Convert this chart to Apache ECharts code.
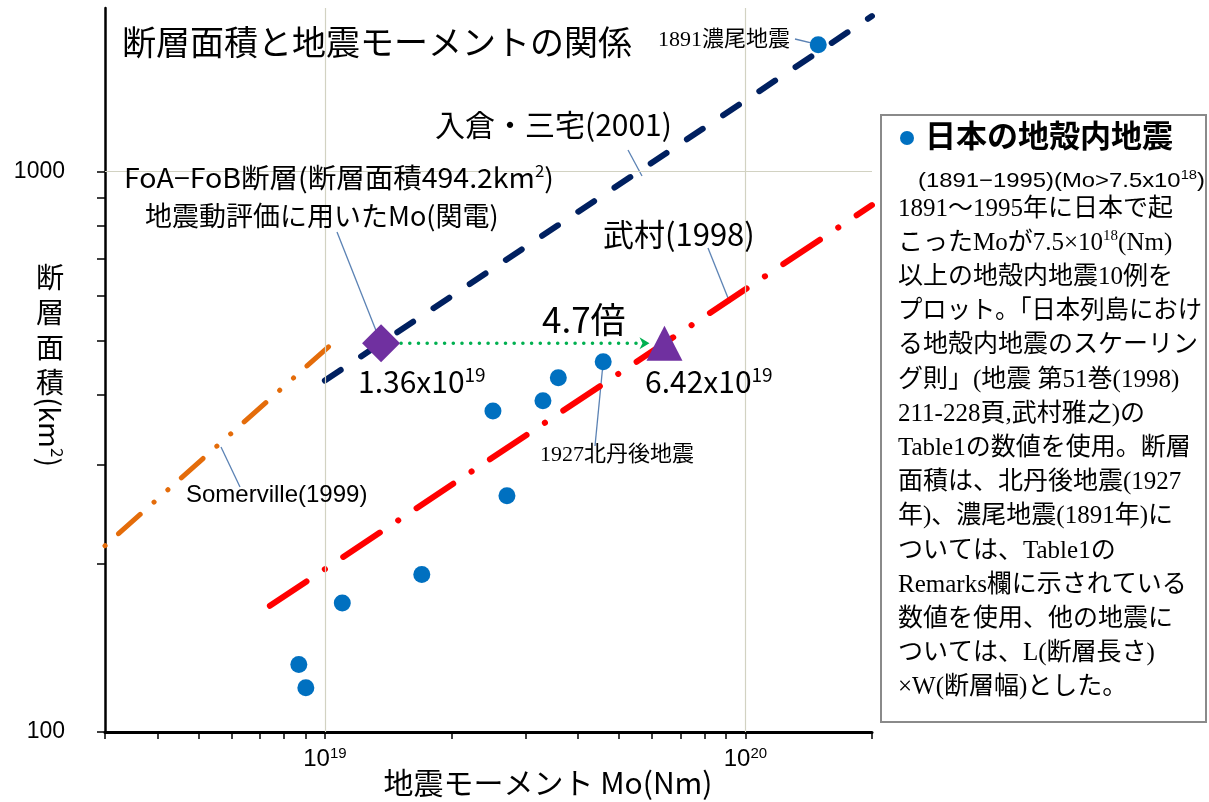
<!DOCTYPE html>
<html><head><meta charset="utf-8">
<script src="https://cdn.jsdelivr.net/npm/echarts@6/dist/echarts.min.js"></script>
<style>html,body{margin:0;padding:0;background:#fff}#c{width:1209px;height:802px}</style>
</head><body><div id="c"></div>
<script>
// ---- data ----
const quakeNames = ['1891濃尾地震','1927北丹後地震','','','','','','','',''];
const quakeMo   = [1.49e20, 4.59e19, 3.59e19, 3.30e19, 2.51e19, 2.71e19, 1.70e19, 1.10e19, 8.67e18, 9.01e18];
const quakeArea = [1686, 458, 429, 390, 374, 264, 191, 170, 132, 120];
const kandenMo = [1.36e19];   const kandenArea = [494.2];
const takemuraPtMo = [6.42e19]; const takemuraPtArea = [494.2];
const irikuraMo = [1e19, 2e20];      const irikuraArea = [424, 1896];
const takemuraMo = [7.4e18, 2e20];   const takemuraArea = [168, 872];
const somervilleMo = [3e18, 1.02e19]; const somervilleArea = [215, 487];
const xRange = [3e18, 2e20];
const yRange = [100, 1960];
const xTickValues = [3e18,4e18,5e18,6e18,7e18,8e18,9e18,1e19,2e19,3e19,4e19,5e19,6e19,7e19,8e19,9e19,1e20,2e20];
const xLabelValues = [1e19, 1e20];
const yTickValues = [100,200,300,400,500,600,700,800,900,1000];
const yLabelValues = [100, 1000];
const xGridValues = [1e19, 1e20];
const yGridValues = [1000];

const L = Math.log10;
const pts = (xs, ys) => xs.map((x, i) => [L(x), L(ys[i])]);
const SANS = "'Noto Sans CJK JP', sans-serif";
const LSANS = "'Liberation Sans', 'Noto Sans CJK JP', sans-serif";
const SERIF = "'Liberation Serif', 'Noto Sans CJK JP', serif";

const chart = echarts.init(document.getElementById('c'), null, {renderer: 'canvas'});
const option = {
  animation: false,
  backgroundColor: '#fff',
  grid: {left: 105, top: 8, width: 767, height: 724},
  xAxis: {
    type: 'value', min: L(xRange[0]), max: L(xRange[1]),
    axisLine: {show: true, onZero: false, lineStyle: {color: '#000', width: 3}},
    axisTick: {show: true, customValues: xTickValues.map(L), length: 7, lineStyle: {color: '#000', width: 1.5}},
    axisLabel: {show: true, customValues: xLabelValues.map(L), margin: 14,
      formatter: v => '{b|10}{s|' + Math.round(v) + '}',
      rich: {b: {fontSize: 24, lineHeight: 27, fontFamily: LSANS, color: '#000'},
             s: {fontSize: 15, lineHeight: 15, verticalAlign: 'top', fontFamily: LSANS, color: '#000'}}},
    splitLine: {show: false}
  },
  yAxis: {
    type: 'value', min: L(yRange[0]), max: L(yRange[1]),
    axisLine: {show: true, onZero: false, lineStyle: {color: '#000', width: 2.5}},
    axisTick: {show: true, customValues: yTickValues.map(L), length: 8, lineStyle: {color: '#000', width: 1.5}},
    axisLabel: {show: true, customValues: yLabelValues.map(L), margin: 40,
      formatter: v => String(Math.round(Math.pow(10, v))),
      fontSize: 23, fontFamily: LSANS, color: '#000'},
    splitLine: {show: false}
  },
  series: [
    {type: 'line', name: 'grid', data: [], z: 0, silent: true,
     markLine: {silent: true, symbol: 'none', label: {show: false},
       lineStyle: {color: '#d2d2c2', width: 1.2, type: 'solid'},
       data: xGridValues.map(v => ({xAxis: L(v)})).concat(yGridValues.map(v => ({yAxis: L(v)})))}},
    {type: 'line', name: 'Somerville(1999)', data: pts(somervilleMo, somervilleArea), showSymbol: false, symbol: 'none', z: 2,
     lineStyle: {color: '#E46C0A', width: 5, type: [0.1, 18, 29, 18.5, 0.1, 18.4], cap: 'round'}},
    {type: 'line', name: '武村(1998)', data: pts(takemuraMo, takemuraArea), showSymbol: false, symbol: 'none', z: 2,
     lineStyle: {color: '#FF0000', width: 6, type: [44, 22, 0.1, 22], cap: 'round'}},
    {type: 'line', name: '入倉・三宅(2001)', data: pts(irikuraMo, irikuraArea), showSymbol: false, symbol: 'none', z: 2,
     lineStyle: {color: '#002060', width: 6, type: [19, 24.5], cap: 'round'}},
    {type: 'scatter', name: '日本の地殻内地震', data: pts(quakeMo, quakeArea), symbol: 'circle', symbolSize: 17, z: 5,
     itemStyle: {color: '#0070C0', opacity: 1}},
    {type: 'scatter', name: '関電Mo', data: pts(kandenMo, kandenArea), symbol: 'diamond', symbolSize: [38, 38], z: 6,
     itemStyle: {color: '#7030A0', opacity: 1}},
    {type: 'scatter', name: '武村式Mo', data: pts(takemuraPtMo, takemuraPtArea), symbol: 'triangle', symbolSize: [36, 35], z: 6,
     itemStyle: {color: '#7030A0', opacity: 1}}
  ]
};
chart.setOption(option);

const P = (mo, s) => chart.convertToPixel({gridIndex: 0}, [L(mo), L(s)]);
const mctx = document.createElement('canvas').getContext('2d');
// measure a '{a|..}{s|..}' or plain string
function measure(text, big, small, fam) {
  const parts = [];
  const re = /\{(a|s)\|([^}]*)\}/g; let m, any = false;
  while ((m = re.exec(text))) { any = true; parts.push([m[1], m[2]]); }
  if (!any) parts.push(['a', text]);
  let w = 0;
  parts.forEach(p => { mctx.font = (p[0] === 's' ? small : big) + 'px ' + fam; w += mctx.measureText(p[1]).width; });
  return w;
}
function txt(x, y, text, font, opts) {
  opts = opts || {};
  return {type: 'text', x: x, y: y, z: opts.z || 50, rotation: opts.rotation || 0, scaleX: opts.scaleX || 1,
    style: Object.assign({text: text, font: font, fill: '#000',
      align: opts.align || 'left', textAlign: opts.align || 'left',
      verticalAlign: opts.va || 'middle', textVerticalAlign: opts.va || 'middle'}, opts.style || {})};
}
function seg(a, b, z) {
  return {type: 'line', z: z || 1, shape: {x1: a[0], y1: a[1], x2: b[0], y2: b[1]},
    style: {stroke: '#5B82B4', lineWidth: 1.3}};
}
const pQ0 = P(quakeMo[0], quakeArea[0]);
const pQ1 = P(quakeMo[1], quakeArea[1]);
const pK = P(kandenMo[0], kandenArea[0]);
const pT = P(takemuraPtMo[0], takemuraPtArea[0]);

const sup = (big, small, fam) => ({
  a: {fontSize: big, lineHeight: big + 4, fontFamily: fam, fill: '#000'},
  s: {fontSize: small, lineHeight: small, verticalAlign: 'top', fontFamily: fam, fill: '#000'}
});

const legendLines = [
  '1891〜1995年に日本で起',
  'こったMoが7.5×10{s|18}(Nm)',
  '以上の地殻内地震10例を',
  'プロット。「日本列島におけ',
  'る地殻内地震のスケーリン',
  'グ則」(地震 第51巻(1998)',
  '211-228頁,武村雅之)の',
  'Table1の数値を使用。断層',
  '面積は、北丹後地震(1927',
  '年)、濃尾地震(1891年)に',
  'ついては、Table1の',
  'Remarks欄に示されている',
  '数値を使用、他の地震に',
  'ついては、L(断層長さ)',
  '×W(断層幅)とした。'
];

const g = [];
// title
g.push(txt(122, 42, '断層面積と地震モーメントの関係', '34px ' + SANS));
// y axis name
g.push(txt(50, 260, '断\n層\n面\n積', '28px ' + SANS, {align: 'center', va: 'top', style: {lineHeight: 35}}));
g.push(txt(50, 432, '{a|(km}{s|2}{a|)}', '28px ' + SANS, {align: 'center', rotation: -Math.PI / 2,
  style: {rich: sup(28, 17, SANS)}}));
// x axis name
g.push(txt(548, 783, '地震モーメント Mo(Nm)', '30px ' + SANS, {align: 'center'}));
// annotations
g.push(txt(658, 40, '1891濃尾地震', '22px ' + SERIF));
g.push(seg([795, 39], pQ0));
g.push(txt(435, 125, '入倉・三宅(2001)', '30px ' + SANS));
g.push(seg([628, 150], [642, 176]));
const foaText = '{a|FoA−FoB断層(断層面積494.2km}{s|2}{a|)}';
g.push(txt(124, 178, foaText, '27px ' + SANS, {scaleX: 430 / measure(foaText, 27, 16, SANS), style: {rich: sup(27, 16, SANS)}}));
g.push(txt(145, 216, '地震動評価に用いたMo(関電)', '27px ' + SANS));
g.push(seg([337, 232], pK));
g.push(txt(603, 234, '武村(1998)', '31px ' + SANS));
g.push(seg([708, 248], [730, 303]));
g.push(txt(542, 320, '4.7倍', '35px ' + SANS));
g.push(txt(358, 382, '{a|1.36x10}{s|19}', '30px ' + SANS, {style: {rich: sup(30, 19, SANS)}}));
g.push(txt(645, 382, '{a|6.42x10}{s|19}', '30px ' + SANS, {style: {rich: sup(30, 19, SANS)}}));
g.push(txt(540, 455, '1927北丹後地震', '22px ' + SERIF));
g.push(seg(pQ1, [595, 446]));
g.push(txt(186, 495, 'Somerville(1999)', '24px ' + LSANS));
g.push(seg([221, 447], [240, 487]));
// green dotted arrow between the two Mo values
const ax1 = pK[0] + 20, ax2 = pT[0] - 15, ay = pK[1];
g.push({type: 'line', z: 3, shape: {x1: ax1, y1: ay, x2: ax2 - 6, y2: ay},
  style: {stroke: '#00B050', lineWidth: 3.5, lineDash: [0.1, 8.6], lineCap: 'round'}});
g.push({type: 'polygon', z: 3, shape: {points: [[ax2, ay], [ax2 - 10, ay - 6], [ax2 - 7, ay], [ax2 - 10, ay + 6]]},
  style: {fill: '#00B050'}});
// legend box
g.push({type: 'rect', z: 10, shape: {x: 881, y: 115, width: 325, height: 607},
  style: {fill: '#fff', stroke: '#8a8a8a', lineWidth: 2}});
g.push({type: 'circle', z: 11, shape: {cx: 907, cy: 138, r: 7}, style: {fill: '#0070C0'}});
g.push(txt(925, 135, '日本の地殻内地震', 'bold 31px ' + SANS, {z: 11}));
const subText = '{a|(1891−1995)(Mo>7.5x10}{s|18}{a|)}';
g.push(txt(918, 181, subText, '21px ' + LSANS, {z: 11, scaleX: Math.min(1.2, 287 / measure(subText, 21, 13, LSANS)),
  style: {rich: sup(21, 13, LSANS)}}));
legendLines.forEach((t, i) => {
  const rt = '{a|' + t.replace('{s|18}', '}{s|18}{a|') + '}';
  const w = measure(rt, 25, 15, SERIF);
  g.push(txt(898, 209 + i * 34.2, rt, '25px ' + SERIF,
    {z: 11, scaleX: Math.min(1, 304 / w), style: {rich: sup(25, 15, SERIF)}}));
});
chart.setOption({graphic: {elements: g}});
</script></body></html>
